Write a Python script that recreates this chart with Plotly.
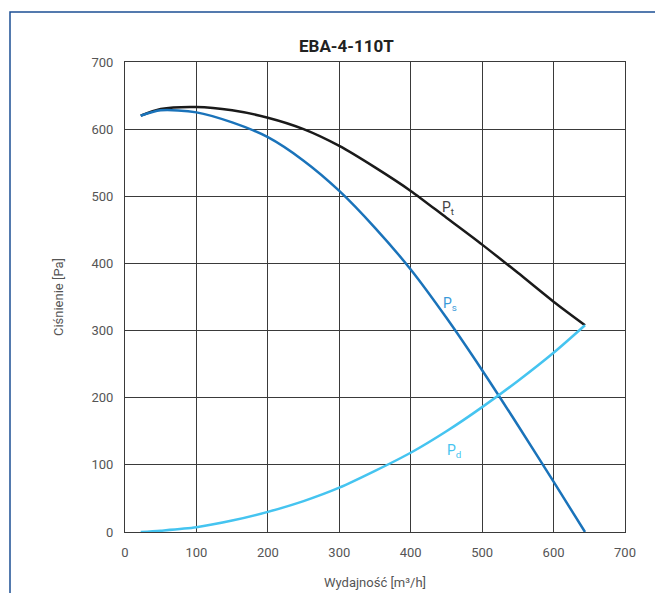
import plotly.graph_objects as go

# Flow rate [m3/h]
q = [22, 50, 100, 150, 200, 250, 300, 350, 400, 450, 500, 550, 600, 644]
# Total pressure Pt [Pa]
pt = [620, 630, 633, 628, 617, 600, 575, 543, 508, 468, 428, 386, 343, 308]
# Static pressure Ps [Pa]
ps = [620, 628, 625, 610, 588, 553, 508, 453, 391, 319, 241, 159, 75, 0]
# Dynamic pressure Pd [Pa]
pd_ = [0, 2, 7, 17, 30, 46, 66, 91, 118, 150, 186, 225, 267, 308]

x_ticks = [0, 100, 200, 300, 400, 500, 600, 700]
y_ticks = [0, 100, 200, 300, 400, 500, 600, 700]

FONT = "Roboto"
fig = go.Figure()
fig.add_trace(go.Scatter(x=q, y=pt, mode="lines", line=dict(color="#1a1a1a", width=2.5, shape="spline", smoothing=0.8), name="Pt"))
fig.add_trace(go.Scatter(x=q, y=ps, mode="lines", line=dict(color="#1a73ba", width=2.5, shape="spline", smoothing=0.8), name="Ps"))
fig.add_trace(go.Scatter(x=q, y=pd_, mode="lines", line=dict(color="#45c4f0", width=2.5, shape="spline", smoothing=0.8), name="Pd"))

annots = [
    dict(x=452, y=482, text="P<sub>t</sub>", color="#444444"),
    dict(x=455, y=340, text="P<sub>s</sub>", color="#3a9ad9"),
    dict(x=460, y=121, text="P<sub>d</sub>", color="#45c4f0"),
]
for a in annots:
    fig.add_annotation(x=a["x"], y=a["y"], text=a["text"], showarrow=False,
                       font=dict(family=FONT, size=14, color=a["color"]), xref="x", yref="y")

fig.add_annotation(x=0.442, y=1.0, xref="paper", yref="paper", yanchor="bottom", yshift=4,
                   text="<b>EBA-4-110T</b>", showarrow=False,
                   font=dict(family=FONT, size=17, color="#222222"))

fig.add_shape(type="rect", xref="paper", yref="paper",
              x0=-0.23, x1=1.064, y0=-0.15, y1=1.1064,
              line=dict(color="#1c4f94", width=1.5))

axis_common = dict(showgrid=True, gridcolor="#3a3a3a", gridwidth=1,
                   showline=True, linecolor="#3a3a3a", linewidth=1, mirror=True,
                   zeroline=False, ticks="", automargin=False,
                   tickfont=dict(family=FONT, size=13, color="#555555"))

fig.update_xaxes(range=[0, 700], tickvals=x_ticks, ticktext=[str(v) for v in x_ticks],
                 title=dict(text="Wydajność [m³/h]", font=dict(family=FONT, size=13, color="#555555"), standoff=19),
                 ticklabelstandoff=8, **axis_common)
fig.update_yaxes(range=[0, 700], tickvals=y_ticks, ticktext=[str(v) for v in y_ticks],
                 title=dict(text="Ciśnienie [Pa]", font=dict(family=FONT, size=13, color="#555555"), standoff=24),
                 ticklabelstandoff=8, **axis_common)

fig.update_layout(width=655, height=585, margin=dict(l=117, r=38, t=54, b=61, autoexpand=False),
                  plot_bgcolor="white", paper_bgcolor="white", showlegend=False)

fig.write_html("out.html")
